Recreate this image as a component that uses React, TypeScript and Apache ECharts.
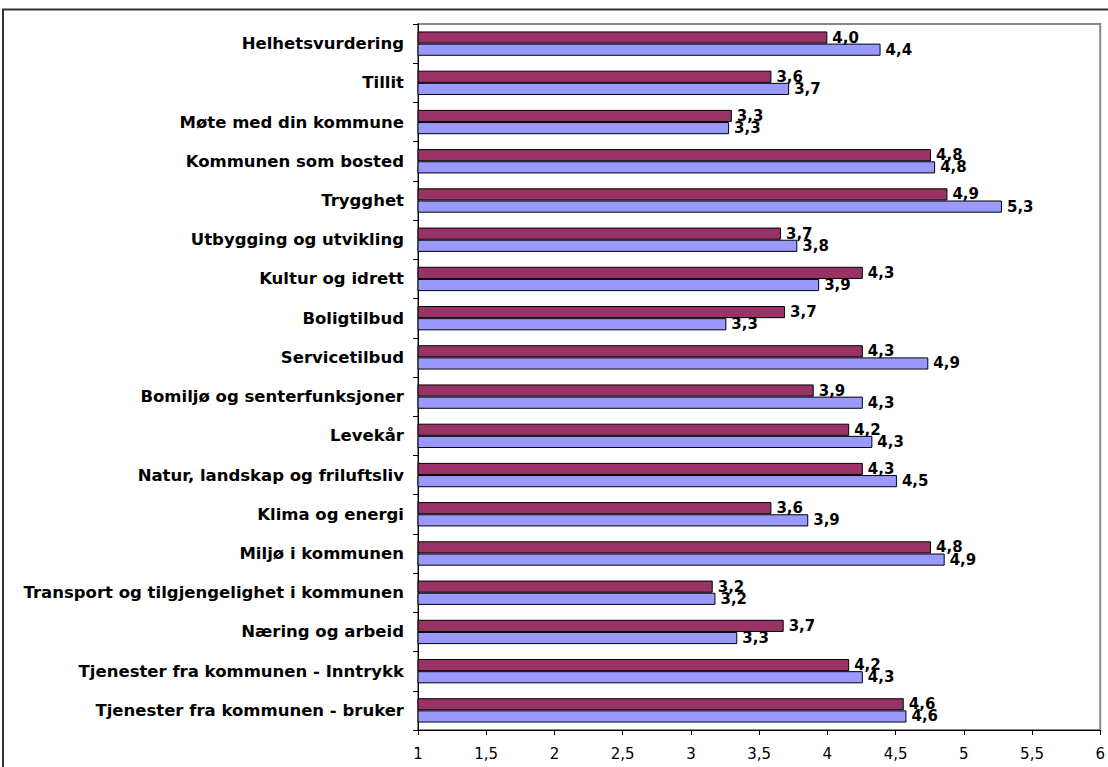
import React, { useEffect, useRef } from "react";
import * as echarts from "echarts";

const categories = [
  "Helhetsvurdering",
  "Tillit",
  "Møte med din kommune",
  "Kommunen som bosted",
  "Trygghet",
  "Utbygging og utvikling",
  "Kultur og idrett",
  "Boligtilbud",
  "Servicetilbud",
  "Bomiljø og senterfunksjoner",
  "Levekår",
  "Natur, landskap og friluftsliv",
  "Klima og energi",
  "Miljø i kommunen",
  "Transport og tilgjengelighet i kommunen",
  "Næring og arbeid",
  "Tjenester fra kommunen - Inntrykk",
  "Tjenester fra kommunen - bruker",
];

const seriesA = [4.0, 3.59, 3.3, 4.76, 4.88, 3.66, 4.26, 3.69, 4.26, 3.9, 4.16, 4.26, 3.59, 4.76, 3.16, 3.68, 4.16, 4.56];
const seriesB = [4.39, 3.72, 3.28, 4.79, 5.28, 3.78, 3.94, 3.26, 4.74, 4.26, 4.33, 4.51, 3.86, 4.86, 3.18, 3.34, 4.26, 4.58];
// labels printed beside the bars, as shown in the reference
const labelsA = ["4,0", "3,6", "3,3", "4,8", "4,9", "3,7", "4,3", "3,7", "4,3", "3,9", "4,2", "4,3", "3,6", "4,8", "3,2", "3,7", "4,2", "4,6"];
const labelsB = ["4,4", "3,7", "3,3", "4,8", "5,3", "3,8", "3,9", "3,3", "4,9", "4,3", "4,3", "4,5", "3,9", "4,9", "3,2", "3,3", "4,3", "4,6"];

const xTicks = [1, 1.5, 2, 2.5, 3, 3.5, 4, 4.5, 5, 5.5, 6];

export default function App() {
  const ref = useRef<HTMLDivElement>(null);
  useEffect(() => {
    if (!ref.current) return;
    const chart = echarts.init(ref.current, null, { renderer: "svg" });
    const mkLabel = (texts: string[]) => ({
      show: true,
      position: "right",
      distance: 5,
      color: "#000",
      fontFamily: "DejaVu Sans",
      fontWeight: "bold",
      fontSize: 15,
      formatter: (p: any) => texts[p.dataIndex],
    });
    chart.setOption({
      animation: false,
      backgroundColor: "#fff",
      graphic: [
        {
          type: "rect",
          shape: { x: 3, y: 9.5, width: 1300, height: 900 },
          style: { fill: "none", stroke: "#333", lineWidth: 2 },
          silent: true,
        },
      ],
      grid: {
        left: 418,
        right: 6,
        top: 24,
        bottom: 37,
        show: true,
        borderColor: "#888",
        borderWidth: 2,
        backgroundColor: "transparent",
      },
      xAxis: {
        type: "value",
        min: 1,
        max: 6,
        interval: 0.5,
        axisLine: { show: true, lineStyle: { color: "#000", width: 1 } },
        axisTick: { show: true, length: 5, lineStyle: { color: "#000" } },
        splitLine: { show: false },
        axisLabel: {
          color: "#000",
          fontFamily: "DejaVu Sans",
          fontSize: 15,
          margin: 16,
          formatter: (v: number) => (xTicks.includes(v) ? String(v).replace(".", ",") : ""),
        },
      },
      yAxis: {
        type: "category",
        inverse: true,
        data: categories,
        axisLine: { show: true, lineStyle: { color: "#000", width: 1 } },
        axisTick: { show: true, length: 5, alignWithLabel: false, lineStyle: { color: "#000" } },
        axisLabel: {
          color: "#000",
          fontFamily: "DejaVu Sans",
          fontWeight: "bold",
          fontSize: 16.5,
          margin: 14,
        },
      },
      series: [
        {
          type: "bar",
          data: seriesA,
          barCategoryGap: "38%",
          barGap: "0%",
          itemStyle: { color: "#993366", borderColor: "#000", borderWidth: 1 },
          label: mkLabel(labelsA),
        },
        {
          type: "bar",
          data: seriesB,
          barCategoryGap: "38%",
          barGap: "0%",
          itemStyle: { color: "#9999FF", borderColor: "#000", borderWidth: 1 },
          label: mkLabel(labelsB),
        },
      ],
    });
    return () => chart.dispose();
  }, []);
  return (
    <div
      ref={ref}
      style={{ position: "fixed", left: 0, top: 0, width: 1108, height: 767 }}
    />
  );
}
